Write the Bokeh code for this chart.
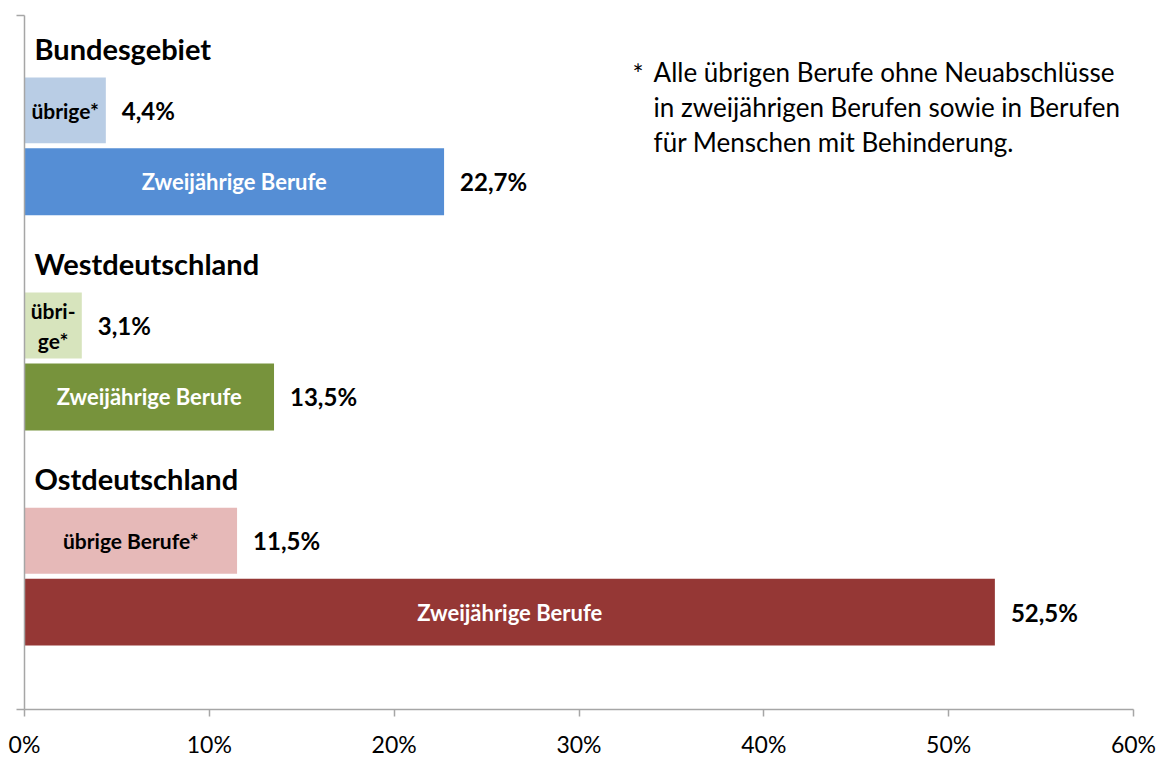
from bokeh.plotting import figure
from bokeh.models import Range1d, FixedTicker, ColumnDataSource
from bokeh.core.properties import value
from bokeh.embed import file_html
from bokeh.resources import INLINE

# ---- data ----
groups = ["Bundesgebiet", "Westdeutschland", "Ostdeutschland"]
uebrige_vals = [4.4, 3.1, 11.5]
zweij_vals = [22.7, 13.5, 52.5]
uebrige_labels = ["übrige*", "übri-\nge*", "übrige Berufe*"]
zweij_label = "Zweijährige Berufe"
x_ticks = [0, 10, 20, 30, 40, 50, 60]
x_tick_labels = ["0%", "10%", "20%", "30%", "40%", "50%", "60%"]
footnote_star = "*"
footnote_lines = ["Alle übrigen Berufe ohne Neuabschlüsse",
                  "in zweijährigen Berufen sowie in Berufen",
                  "für Menschen mit Behinderung."]

light_colors = ["#B9CDE5", "#D7E4BD", "#E6B9B8"]
dark_colors = ["#558ED5", "#77933C", "#953735"]

FONT = "Lato"

def pct(v):
    return f"{v:.1f}".replace(".", ",") + "%"

# layout in vertical "pixel-like" units (0 = top of frame)
PITCH = 215.5
n = len(groups)
head_y = [33 + i * PITCH for i in range(n)]
u_y = [95 + i * PITCH for i in range(n)]
z_y = [166.5 + i * PITCH for i in range(n)]

p = figure(width=1162, height=760, output_backend="svg", toolbar_location=None,
           x_range=Range1d(0, 60), y_range=Range1d(695, 0),
           min_border_left=24, min_border_right=29, min_border_top=15, min_border_bottom=50)
p.outline_line_color = None
p.xgrid.visible = False
p.ygrid.visible = False
p.background_fill_color = "white"

src_u = ColumnDataSource(dict(y=u_y, right=uebrige_vals, color=light_colors,
                              lab=uebrige_labels, mid=[v / 2 for v in uebrige_vals],
                              val=[pct(v) for v in uebrige_vals]))
src_z = ColumnDataSource(dict(y=z_y, right=zweij_vals, color=dark_colors,
                              lab=[zweij_label] * n, mid=[v / 2 for v in zweij_vals],
                              val=[pct(v) for v in zweij_vals]))

p.hbar(y="y", left=0, right="right", height=66, color="color", line_color=None, source=src_u)
p.hbar(y="y", left=0, right="right", height=67, color="color", line_color=None, source=src_z)

# inside labels
p.text(x="mid", y="y", text="lab", source=src_u, text_font=value(FONT), text_font_style="bold",
       text_font_size="21px", text_color="black", text_align="center", text_baseline="middle",
       text_line_height=1.2)
p.text(x="mid", y="y", text="lab", source=src_z, text_font=value(FONT), text_font_style="bold",
       text_font_size="22px", text_color="white", text_align="center", text_baseline="middle")

# value labels
for src in (src_u, src_z):
    p.text(x="right", y="y", text="val", source=src, x_offset=16, text_font=value(FONT),
           text_font_style="bold", text_font_size="24px", text_color="black",
           text_align="left", text_baseline="middle")

# group headers
p.text(x=[0] * n, y=head_y, text=groups, x_offset=10, text_font=value(FONT),
       text_font_style="bold", text_font_size="29px", text_color="black",
       text_align="left", text_baseline="middle")

# footnote
fx_star = (632 - 24) / 18.48
fx_text = (653 - 24) / 18.48
p.text(x=[fx_star], y=[59], text=[footnote_star], text_font=value(FONT), text_font_size="26px",
       text_color="black", text_align="left", text_baseline="middle")
p.text(x=[fx_text] * len(footnote_lines), y=[57 + 35 * i for i in range(len(footnote_lines))],
       text=footnote_lines, text_font=value(FONT), text_font_size="26px",
       text_color="black", text_align="left", text_baseline="middle")

# axes
ax = p.xaxis[0]
ax.ticker = FixedTicker(ticks=x_ticks)
ax.major_label_overrides = {t: l for t, l in zip(x_ticks, x_tick_labels)}
ax.axis_line_color = "#A6A6A6"
ax.axis_line_width = 1.5
ax.major_tick_line_color = "#A6A6A6"
ax.major_tick_line_width = 1.5
ax.major_tick_out = 7
ax.major_tick_in = 0
ax.minor_tick_line_color = None
ax.major_label_text_font = FONT
ax.major_label_text_font_size = "23px"
ax.major_label_text_color = "black"
ax.major_label_standoff = 13

ay = p.yaxis[0]
ay.ticker = FixedTicker(ticks=[], minor_ticks=[0, 695])
ay.axis_line_color = "#A6A6A6"
ay.axis_line_width = 1.5
ay.major_tick_line_color = None
ay.minor_tick_line_color = "#A6A6A6"
ay.minor_tick_line_width = 1.5
ay.minor_tick_out = 8
ay.minor_tick_in = 0
ay.major_label_standoff = 0

open("out.html", "w").write(file_html(p, INLINE))
